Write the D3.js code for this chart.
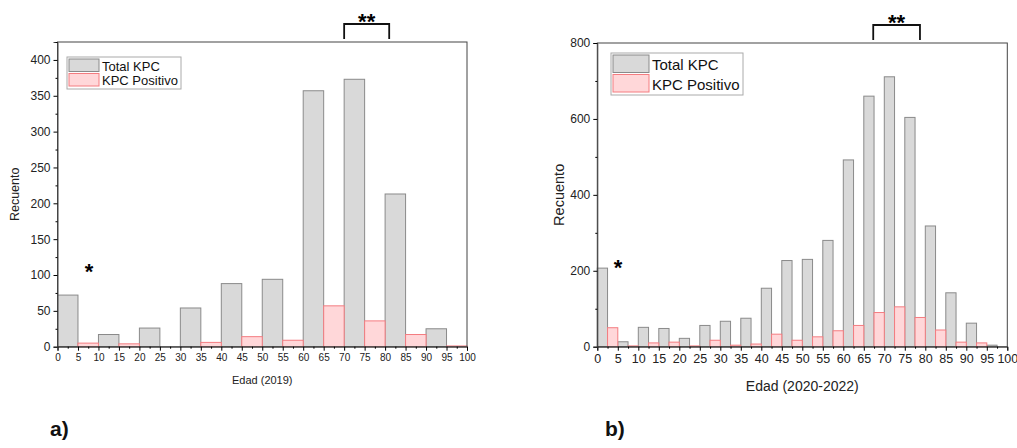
<!DOCTYPE html>
<html>
<head>
<meta charset="utf-8">
<script src="https://cdn.jsdelivr.net/npm/d3@7"></script>
<style>
  body { margin: 0; background: #fff; }
  svg { font-family: "Liberation Sans", Arial, sans-serif; }
</style>
</head>
<body>
<svg id="chart" width="1017" height="448"></svg>
<script>
// 2019: bins of 10 years, total on the left half, positive on the right half
const bins2019 = [0, 10, 20, 30, 40, 50, 60, 70, 80, 90];
const total2019 = [72, 17, 26, 54, 88, 94, 357, 373, 213, 25];
const positivo2019 = [5, 4, 0, 6, 14, 9, 57, 36, 17, 1];

// 2020-2022: bins of 5 years
const bins2020 = [0, 5, 10, 15, 20, 25, 30, 35, 40, 45, 50, 55, 60, 65, 70, 75, 80, 85, 90, 95];
const total2020 = [207, 13, 51, 48, 22, 56, 67, 75, 154, 227, 230, 280, 492, 660, 711, 604, 318, 142, 62, 4];
const positivo2020 = [50, 2, 10, 12, 2, 17, 4, 7, 33, 17, 26, 42, 56, 90, 105, 77, 44, 12, 10, 0];

const xTicks = d3.range(0, 101, 5);
const legendLabels = ["Total KPC", "KPC Positivo"];

const svg = d3.select("#chart");
const grayFill = "#d9d9d9", grayStroke = "#8a8a8a";
const pinkFill = "#ffd7d9", pinkStroke = "#f47c80";

function drawPanel(cfg) {
  const x = d3.scaleLinear().domain([0, 100]).range([cfg.left, cfg.right]);
  const y = d3.scaleLinear().domain([0, cfg.ymax]).range([cfg.bottom, cfg.top]);
  const g = svg.append("g");
  const half = cfg.binWidth / 2;

  // total bars
  g.selectAll(".tot").data(cfg.bins).join("rect")
    .attr("x", d => x(d))
    .attr("width", x(half) - x(0))
    .attr("y", (d, i) => y(cfg.total[i]))
    .attr("height", (d, i) => y(0) - y(cfg.total[i]))
    .attr("fill", grayFill).attr("stroke", grayStroke).attr("stroke-width", 1);

  // positive bars
  g.selectAll(".pos").data(cfg.bins).join("rect")
    .attr("x", d => x(d + half))
    .attr("width", x(half) - x(0))
    .attr("y", (d, i) => y(cfg.pos[i]))
    .attr("height", (d, i) => y(0) - y(cfg.pos[i]))
    .attr("fill", pinkFill).attr("stroke", pinkStroke).attr("stroke-width", 1)
    .attr("display", (d, i) => cfg.pos[i] > 0 ? null : "none");

  // frame
  g.append("rect")
    .attr("x", cfg.left).attr("y", cfg.top)
    .attr("width", cfg.right - cfg.left).attr("height", cfg.bottom - cfg.top)
    .attr("fill", "none").attr("stroke", "#444").attr("stroke-width", 1);

  // x axis
  const xAxis = g.append("g").attr("transform", `translate(0,${cfg.bottom})`)
    .call(d3.axisBottom(x).tickValues(xTicks).tickSize(4).tickPadding(3));
  xAxis.selectAll(".domain").attr("stroke", "#444");
  xAxis.selectAll("text").attr("font-size", cfg.xTickFont).attr("fill", "#222");
  g.append("g").attr("transform", `translate(0,${cfg.bottom})`)
    .call(d3.axisBottom(x).tickValues(d3.range(2.5, 100, 5)).tickSize(2).tickFormat(""))
    .selectAll(".domain").remove();

  // y axis
  const yAxis = g.append("g").attr("transform", `translate(${cfg.left},0)`)
    .call(d3.axisLeft(y).tickValues(cfg.yTicks).tickSize(4).tickPadding(3));
  yAxis.selectAll(".domain").attr("stroke", "#444");
  yAxis.selectAll("text").attr("font-size", cfg.yTickFont).attr("fill", "#222");
  g.append("g").attr("transform", `translate(${cfg.left},0)`)
    .call(d3.axisLeft(y).tickValues(cfg.yMinor).tickSize(2).tickFormat(""))
    .selectAll(".domain").remove();

  // axis titles
  g.append("text")
    .attr("transform", `translate(${cfg.yTitleX},${(cfg.top + cfg.bottom) / 2}) rotate(-90)`)
    .attr("text-anchor", "middle").attr("font-size", cfg.titleFont).attr("fill", "#222")
    .text("Recuento");
  g.append("text")
    .attr("x", (cfg.left + cfg.right) / 2).attr("y", cfg.xTitleY)
    .attr("text-anchor", "middle").attr("font-size", cfg.xTitleFont).attr("fill", "#222")
    .text(cfg.xTitle);

  // legend
  const L = cfg.legend;
  const lg = g.append("g");
  lg.append("rect").attr("x", L.x).attr("y", L.y).attr("width", L.w).attr("height", L.h)
    .attr("fill", "#fff").attr("stroke", "#aaa").attr("stroke-width", 1);
  legendLabels.forEach((lab, i) => {
    const yy = L.y + 2 + i * L.row;
    lg.append("rect").attr("x", L.x + 2).attr("y", yy).attr("width", L.sw).attr("height", L.row - 2)
      .attr("fill", i ? pinkFill : grayFill).attr("stroke", i ? pinkStroke : grayStroke);
    lg.append("text").attr("x", L.x + L.sw + 5).attr("y", yy + L.row / 2 + L.font * 0.35)
      .attr("font-size", L.font).attr("fill", "#111").text(lab);
  });

  // significance marks
  const b = cfg.bracket;
  g.append("path")
    .attr("d", `M${x(b[0])},${cfg.top - 3}V${cfg.top - 18}H${x(b[1])}V${cfg.top - 3}`)
    .attr("fill", "none").attr("stroke", "#111").attr("stroke-width", 1.8);
  g.append("text").attr("x", (x(b[0]) + x(b[1])) / 2).attr("y", cfg.top - 13)
    .attr("text-anchor", "middle").attr("font-size", 22).attr("font-weight", "bold").text("**");
  g.append("text").attr("x", cfg.star[0]).attr("y", cfg.star[1])
    .attr("text-anchor", "middle").attr("font-size", 22).attr("font-weight", "bold").text("*");

  // panel label
  g.append("text").attr("x", cfg.panel[0]).attr("y", cfg.panel[1])
    .attr("font-size", 21).attr("font-weight", "bold").attr("fill", "#111").text(cfg.panelLabel);
}

drawPanel({
  bins: bins2019, total: total2019, pos: positivo2019, binWidth: 10,
  left: 57.5, right: 467, top: 42, bottom: 346.7, ymax: 425,
  yTicks: d3.range(0, 401, 50), yMinor: d3.range(25, 426, 50),
  xTickFont: 10, yTickFont: 12, titleFont: 12.5, xTitleFont: 11,
  xTitle: "Edad (2019)", xTitleY: 384, yTitleX: 19,
  legend: { x: 67, y: 57, w: 114, h: 32, row: 14.5, sw: 30, font: 13 },
  bracket: [70, 81], star: [89, 279], panel: [50, 436], panelLabel: "a)"
});

drawPanel({
  bins: bins2020, total: total2020, pos: positivo2020, binWidth: 5,
  left: 597.3, right: 1007.3, top: 43, bottom: 346.7, ymax: 800,
  yTicks: d3.range(0, 801, 200), yMinor: d3.range(100, 800, 200),
  xTickFont: 12.5, yTickFont: 12, titleFont: 14.5, xTitleFont: 14,
  xTitle: "Edad (2020-2022)", xTitleY: 391, yTitleX: 564,
  legend: { x: 611, y: 53, w: 132, h: 42, row: 19.5, sw: 36, font: 15 },
  bracket: [67.3, 78.7], star: [618, 275], panel: [605, 436], panelLabel: "b)"
});
</script>
</body>
</html>
